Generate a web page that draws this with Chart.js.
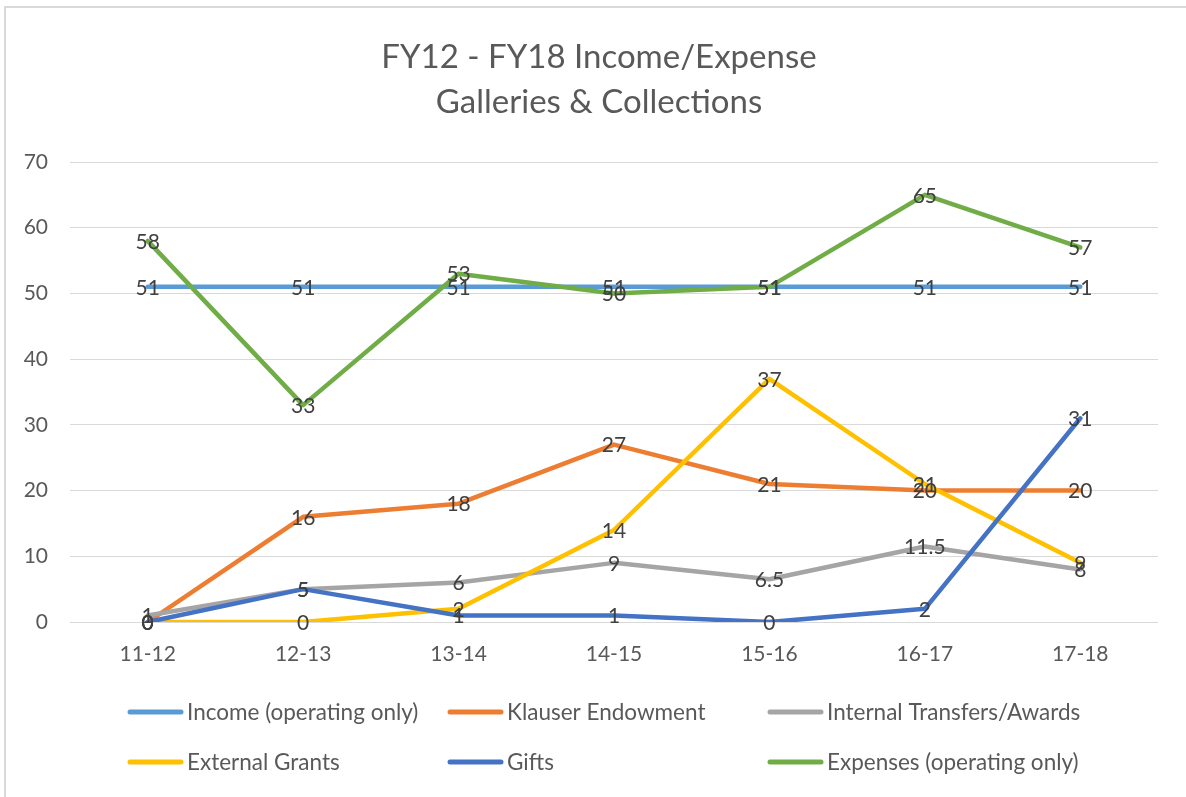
<!DOCTYPE html>
<html><head><meta charset="utf-8">
<script src="https://cdn.jsdelivr.net/npm/chart.js@4.4.1/dist/chart.umd.min.js"></script>
<style>html,body{margin:0;padding:0;background:#fff;overflow:hidden}#wrap{position:relative;width:1186px;height:797px}</style>
</head><body><div id="wrap"><canvas id="c" width="1186" height="797"></canvas></div>
<script>
const categories = ['11-12','12-13','13-14','14-15','15-16','16-17','17-18'];
const seriesNames = ['Income (operating only)','Klauser Endowment','Internal Transfers/Awards','External Grants','Gifts','Expenses (operating only)'];
const income = [51,51,51,51,51,51,51];
const klauser = [0,16,18,27,21,20,20];
const internalTransfers = [1,5,6,9,6.5,11.5,8];
const externalGrants = [0,0,2,14,37,21,9];
const gifts = [0,5,1,1,0,2,31];
const expenses = [58,33,53,50,51,65,57];
const yTicks = [0,10,20,30,40,50,60,70];
const titleLines = ['FY12 - FY18 Income/Expense','Galleries & Collections'];

const colors = ['#5B9BD5','#ED7D31','#A5A5A5','#FFC000','#4472C4','#70AD47'];
const seriesData = [income, klauser, internalTransfers, externalGrants, gifts, expenses];
const FONT = 'Lato';
const TEXT = '#595959';

const datasets = seriesData.map((d,i)=>({
  label: seriesNames[i], data: d, borderColor: colors[i], backgroundColor: colors[i],
  borderWidth: 4.5, pointRadius: 0, pointHoverRadius: 0, tension: 0,
  borderCapStyle: 'round', borderJoinStyle: 'round', fill: false,
  order: seriesData.length - i
}));

const frame = {
  id: 'frame',
  beforeDraw(chart){
    const ctx = chart.ctx; ctx.save();
    ctx.fillStyle = '#fff'; ctx.fillRect(0,0,chart.width,chart.height);
    ctx.strokeStyle = '#d9d9d9'; ctx.lineWidth = 2;
    ctx.beginPath(); ctx.moveTo(5, chart.height); ctx.lineTo(5, 7); ctx.lineTo(chart.width, 7); ctx.stroke();
    ctx.restore();
  }
};
const labels = {
  id: 'dlabels',
  afterDatasetsDraw(chart){
    const ctx = chart.ctx; ctx.save();
    ctx.font = `21px ${FONT}`; ctx.fillStyle = '#404040';
    ctx.textAlign = 'center'; ctx.textBaseline = 'middle';
    chart.data.datasets.forEach((ds, di)=>{
      const meta = chart.getDatasetMeta(di);
      meta.data.forEach((el, j)=>{ ctx.fillText(String(ds.data[j]), el.x, el.y + 1); });
    });
    ctx.restore();
  }
};
const titleLegend = {
  id: 'titleLegend',
  afterDraw(chart){
    const ctx = chart.ctx; ctx.save();
    ctx.fillStyle = TEXT; ctx.textAlign = 'center'; ctx.textBaseline = 'middle';
    ctx.font = `33px ${FONT}`;
    ctx.fillText(titleLines[0], 599, 57);
    ctx.fillText(titleLines[1], 599, 102);
    ctx.font = `22.5px ${FONT}`; ctx.textAlign = 'left';
    chart.data.datasets.forEach((ds, i)=>{
      const col = i % 3, row = Math.floor(i / 3);
      const x0 = 128 + col * 320, y = 712 + row * 50;
      ctx.strokeStyle = ds.borderColor; ctx.lineWidth = 5; ctx.lineCap = 'round';
      ctx.beginPath(); ctx.moveTo(x0 + 2, y); ctx.lineTo(x0 + 53, y); ctx.stroke();
      ctx.fillStyle = TEXT; ctx.fillText(ds.label, x0 + 59, y + 1);
    });
    ctx.restore();
  }
};

new Chart(document.getElementById('c'), {
  type: 'line',
  data: { labels: categories, datasets },
  options: {
    responsive: false, animation: false, devicePixelRatio: 1,
    layout: { padding: { top: 162, right: 28, bottom: 115, left: 0 } },
    plugins: { legend: { display: false }, title: { display: false }, tooltip: { enabled: false } },
    scales: {
      x: {
        type: 'category', offset: true,
        grid: { display: false, drawTicks: false }, border: { display: false },
        ticks: { color: TEXT, font: { family: FONT, size: 21 }, padding: 20, maxRotation: 0 },
        afterFit(s){ s.height = 60; }
      },
      y: {
        min: 0, max: 70,
        afterBuildTicks(s){ s.ticks = yTicks.map(v=>({value:v})); },
        grid: { color: '#d9d9d9', lineWidth: 1, drawTicks: false }, border: { display: false },
        ticks: { color: TEXT, font: { family: FONT, size: 21 }, padding: 22 },
        afterFit(s){ s.width = 70; }
      }
    }
  },
  plugins: [frame, labels, titleLegend]
});
</script></body></html>
